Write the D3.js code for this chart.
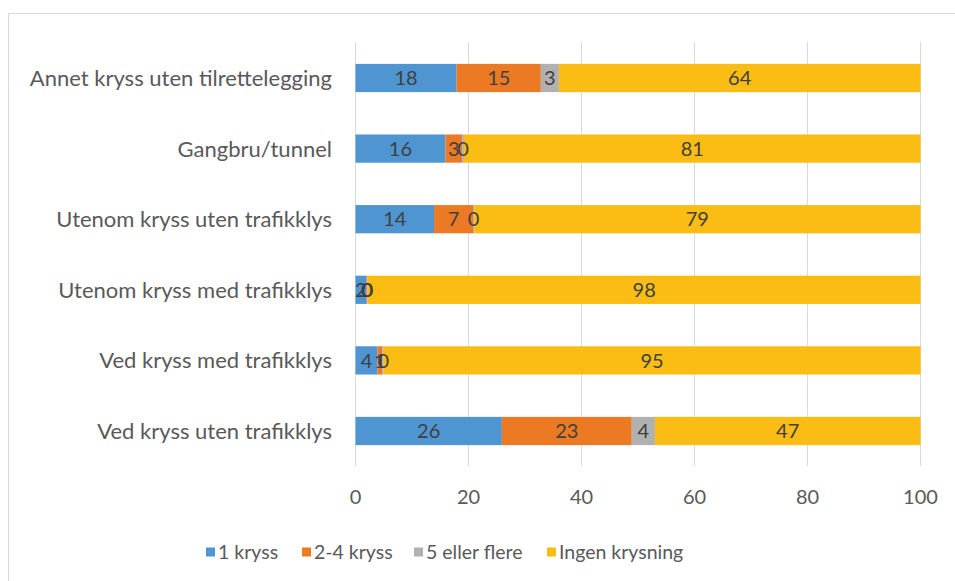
<!DOCTYPE html>
<html>
<head>
<meta charset="utf-8">
<script src="https://cdn.jsdelivr.net/npm/d3@7"></script>
<style>
  body { margin: 0; background: #fff; }
  svg { font-family: Lato, 'Noto Sans', sans-serif; }
</style>
</head>
<body>
<svg id="chart" width="955" height="581"></svg>
<script>
const categories = [
  'Annet kryss uten tilrettelegging',
  'Gangbru/tunnel',
  'Utenom kryss uten trafikklys',
  'Utenom kryss med trafikklys',
  'Ved kryss med trafikklys',
  'Ved kryss uten trafikklys',
]
const seriesNames = ['1 kryss', '2-4 kryss', '5 eller flere', 'Ingen krysning']
const oneCrossing = [17.9, 15.9, 13.9, 1.9, 3.9, 25.9]
const twoToFour = [14.9, 3.0, 6.9, 0.2, 0.9, 23.0]
const fiveOrMore = [3.2, 0.3, 0.2, 0.1, 0.2, 4.1]
const noCrossing = [64.0, 80.8, 79.0, 97.8, 95.0, 47.0]
const xTicks = [0, 20, 40, 60, 80, 100]

const colors = ['#4e95d1', '#ec7a25', '#b1b1b1', '#fbbd13']

const rows = categories.map((c, i) => ({
  cat: c,
  s0: oneCrossing[i],
  s1: twoToFour[i],
  s2: fiveOrMore[i],
  s3: noCrossing[i],
}))

const svg = d3.select('#chart')

// outer frame
svg.append('rect')
  .attr('x', 8.5).attr('y', 13.5)
  .attr('width', 960).attr('height', 600)
  .attr('fill', 'none').attr('stroke', '#d9d9d9').attr('stroke-width', 1)

const x = d3.scaleLinear().domain([0, 100]).range([355.5, 920.5])
const y = d3.scaleBand().domain(categories).range([42.7, 466.3]).paddingInner(0.6).paddingOuter(0.3)

// gridlines
svg.append('g')
  .selectAll('line')
  .data(xTicks)
  .join('line')
  .attr('x1', d => x(d)).attr('x2', d => x(d))
  .attr('y1', 42).attr('y2', 466)
  .attr('stroke', '#d9d9d9').attr('stroke-width', 1)

const stack = d3.stack().keys(['s0', 's1', 's2', 's3'])(rows)

const layers = svg.append('g')
  .selectAll('g')
  .data(stack)
  .join('g')
  .attr('fill', (d, i) => colors[i])

layers.selectAll('rect')
  .data(d => d)
  .join('rect')
  .attr('x', d => x(d[0]))
  .attr('y', d => y(d.data.cat))
  .attr('width', d => x(d[1]) - x(d[0]))
  .attr('height', y.bandwidth())

// data labels
const labels = svg.append('g')
  .attr('font-size', 20)
  .attr('fill', '#404040')
  .attr('text-anchor', 'middle')
stack.forEach(layer => {
  layer.forEach(d => {
    labels.append('text')
      .attr('x', (x(d[0]) + x(d[1])) / 2)
      .attr('y', y(d.data.cat) + y.bandwidth() / 2)
      .attr('dy', '0.36em')
      .text(Math.round(d[1] - d[0]))
  })
})

// category axis labels
svg.append('g')
  .attr('font-size', 22)
  .attr('fill', '#595959')
  .attr('text-anchor', 'end')
  .selectAll('text')
  .data(categories)
  .join('text')
  .attr('x', 332)
  .attr('y', d => y(d) + y.bandwidth() / 2)
  .attr('dy', '0.36em')
  .text(d => d)

// x tick labels
svg.append('g')
  .attr('font-size', 20)
  .attr('fill', '#595959')
  .attr('text-anchor', 'middle')
  .selectAll('text')
  .data(xTicks)
  .join('text')
  .attr('x', d => x(d))
  .attr('y', 497)
  .attr('dy', '0.36em')
  .text(d => d)

// legend
const legendX = [206, 302, 414, 547]
const legend = svg.append('g')
  .selectAll('g')
  .data(seriesNames)
  .join('g')
  .attr('transform', (d, i) => `translate(${legendX[i]},552)`)
legend.append('rect')
  .attr('x', 0).attr('y', -4.5)
  .attr('width', 9).attr('height', 9)
  .attr('fill', (d, i) => colors[i])
legend.append('text')
  .attr('x', 12)
  .attr('dy', '0.36em')
  .attr('font-size', 19.5)
  .attr('fill', '#595959')
  .text(d => d)
</script>
</body>
</html>
